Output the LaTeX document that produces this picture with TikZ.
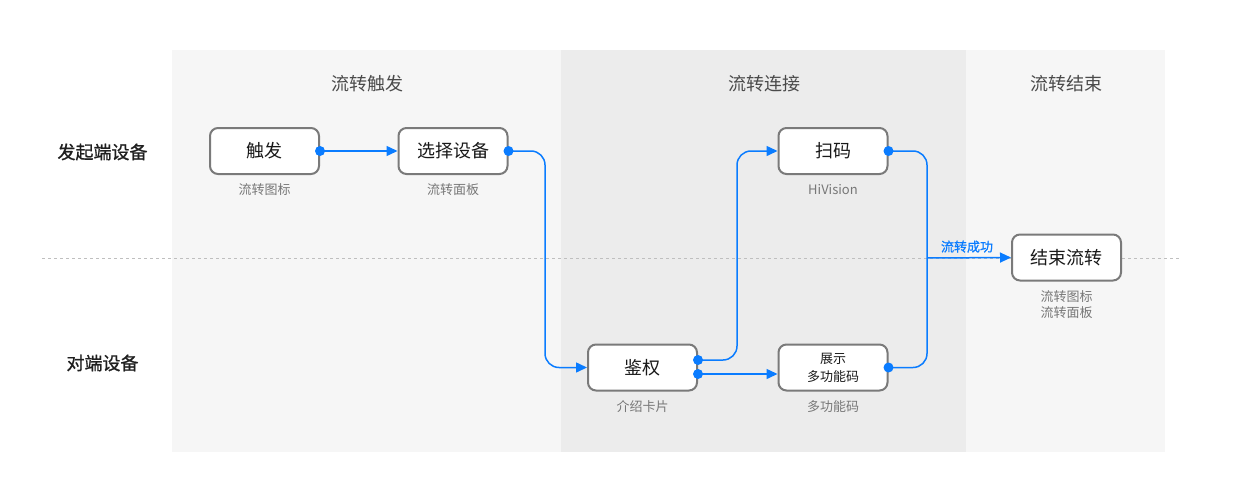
\documentclass[tikz,border=0pt]{standalone}
\usepackage{fontspec}
\setmainfont{Noto Sans CJK SC}
\newfontfamily\medfont[FakeBold=1]{Noto Sans CJK SC}
\usetikzlibrary{arrows.meta}
\definecolor{flowblue}{HTML}{0A7CFF}
\definecolor{panelA}{HTML}{F6F6F6}
\definecolor{panelB}{HTML}{ECECEC}
\definecolor{boxgray}{HTML}{7A7A7A}
\definecolor{labgray}{HTML}{777777}
\definecolor{headgray}{HTML}{4A4A4A}
\tikzset{
  stepbox/.style={draw=boxgray,line width=2pt,fill=white,rounded corners=8pt,
    minimum width=109pt,minimum height=46pt,inner sep=0pt,align=center,
    font=\fontsize{18}{20}\selectfont,text=black!90},
  smallbox/.style={stepbox,font=\fontsize{13}{18}\selectfont},
  sublabel/.style={font=\fontsize{13}{18}\selectfont,text=labgray,align=center},
  header/.style={font=\fontsize{18}{20}\selectfont,text=headgray},
  rowlabel/.style={font=\medfont\fontsize{18}{20}\selectfont,text=black!88},
  flow/.style={draw=flowblue,line width=1.5pt,rounded corners=14pt,-{Triangle[length=11pt,width=10pt]}},
  flowline/.style={draw=flowblue,line width=1.5pt,rounded corners=14pt},
  dot/.style={fill=flowblue}
}
\begin{document}
\begin{tikzpicture}[x=1pt,y=-1pt]
\useasboundingbox[fill=white] (0,0) rectangle (1238,500);
% panels
\fill[panelA] (172,50) rectangle (561,452);
\fill[panelB] (561,50) rectangle (966,452);
\fill[panelA] (966,50) rectangle (1165,452);
% dashed divider
\draw[black!25,line width=1pt,dash pattern=on 3pt off 3pt] (42,258) -- (1180,258);
% headers
\node[header] (h1) at (367.5,84) {流转触发};
\node[header] (h2) at (764.5,84) {流转连接};
\node[header] (h3) at (1066,84) {流转结束};
\node[rowlabel] (r1) at (102.5,152) {发起端设备};
\node[rowlabel] (r2) at (102.5,363) {对端设备};
% nodes
\node[stepbox] (trig) at (264.5,151) {触发};
\node[stepbox] (sel) at (453,151) {选择设备};
\node[stepbox] (scan) at (833,151) {扫码};
\node[stepbox] (end) at (1066.5,257.5) {结束流转};
\node[stepbox] (auth) at (642.5,367.5) {鉴权};
\node[smallbox] (show) at (833,367.5) {展示\\多功能码};
% sublabels
\node[sublabel] (l1) at (264.5,190) {流转图标};
\node[sublabel] (l2) at (453,190) {流转面板};
\node[sublabel] (l3) at (833,190) {HiVision};
\node[sublabel] (l4) at (642.5,407) {介绍卡片};
\node[sublabel] (l5) at (833,407) {多功能码};
\node[sublabel] (l6) at (1066.5,305) {流转图标\\[-2pt]流转面板};
% coordinates
\coordinate (c1) at (545,260);
\coordinate (c2) at (737,260);
\coordinate (c3) at (927,258);
\coordinate (authU) at ([yshift=7.5pt]auth.east);
\coordinate (authD) at ([yshift=-6.5pt]auth.east);
% connectors
\draw[flow] (trig.east) -- (sel.west);
\draw[flow] (sel.east) -| (c1) |- (auth.west);
\draw[flow] (authU) -| (c2) |- (scan.west);
\draw[flow] (authD) -- (authD -| show.west);
\draw[flowline] (scan.east) -| (c3) |- (show.east);
\draw[flow,rounded corners=0pt] (c3) -- node[above=1pt,font=\medfont\fontsize{13}{16}\selectfont,text=flowblue,xshift=-2pt] (succ) {流转成功} (end.west);
% dots
\fill[dot] (trig.east) circle (5pt);
\fill[dot] (sel.east) circle (5pt);
\fill[dot] (authU) circle (5pt);
\fill[dot] (authD) circle (5pt);
\fill[dot] (scan.east) circle (5pt);
\fill[dot] (show.east) circle (5pt);
\end{tikzpicture}
\end{document}
